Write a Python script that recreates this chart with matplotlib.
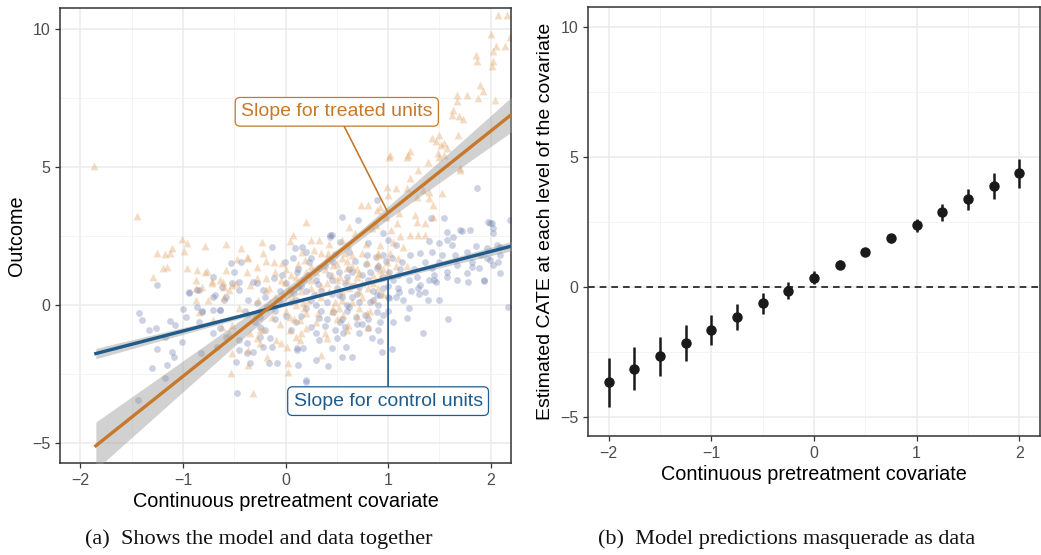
import numpy as np
import matplotlib
matplotlib.use("Agg")
import matplotlib.pyplot as plt

# values
treated = [
    (2.07, 10.5), (2.16, 10.5), (2.0, 9.8), (2.05, 9.4), (2.14, 9.4), (2.02, 9.2), (1.86, 9.06),
    (1.87, 8.84), (2.02, 8.84), (2.01, 8.66), (2.19, 9.7), (1.90, 7.97), (1.93, 7.75), (1.67, 7.6),
    (1.77, 7.6), (1.67, 7.4), (1.88, 7.5), (2.04, 7.43), (1.63, 7.07), (1.62, 6.9), (1.69, 6.85),
    (1.73, 6.74), (1.68, 6.16), (1.50, 6.16), (1.43, 6.05), (1.47, 5.94), (1.52, 5.8), (1.55, 5.87),
    (1.57, 5.7), (1.55, 5.43), (1.21, 5.58), (1.19, 5.43), (1.02, 5.43), (1.49, 5.5), (1.01, 5.36),
    (1.18, 5.36), (1.39, 5.18), (1.50, 5.36), (1.70, 4.89), (1.29, 4.89), (1.21, 4.6), (0.99, 4.28),
    (1.08, 4.24), (1.18, 4.24), (1.34, 4.17), (1.53, 4.06), (1.0, 3.99), (1.28, 3.91), (1.40, 3.88),
    (1.44, 3.62), (0.74, 3.62), (0.80, 3.62), (0.92, 3.55), (0.89, 3.44), (1.11, 3.33), (1.26, 3.26),
    (1.44, 3.19), (0.20, 3.0), (1.09, 2.97), (1.28, 3.0), (1.36, 2.97), (0.62, 2.83), (0.84, 2.79),
    (1.03, 2.72), (1.21, 2.54), (1.29, 2.54), (1.36, 2.54), (0.25, 2.36), (0.33, 2.36), (0.55, 2.36),
    (0.61, 2.17), (0.92, 2.17), (0.16, 1.92), (0.41, 1.88), (0.65, 1.81), (0.90, 1.81), (0.79, 1.56),
    (0.99, 1.56), (0.19, 1.63), (0.46, 1.45), (0.60, 1.34), (0.92, 1.27), (0.72, 1.16), (0.53, 1.01),
    (1.70, 4.96), (1.40, 4.09), (-1.87, 5.04), (-1.45, 3.22),
    (-1.01, 2.39), (-1.11, 2.07), (-0.96, 2.25), (-1.25, 1.88), (-1.18, 1.85), (-1.13, 1.88),
    (-0.99, 1.96), (-0.79, 2.14), (-0.58, 2.21), (-0.43, 2.07), (-0.23, 2.28), (-0.22, 1.88),
    (0.04, 2.32), (0.07, 2.54), (-1.20, 1.34), (-1.29, 1.01), (-0.96, 1.34), (-0.86, 1.27),
    (-0.77, 1.23), (-0.87, 0.91), (-0.72, 0.87), (-0.64, 0.91), (-0.58, 1.27), (-0.47, 1.67),
    (-0.38, 1.74), (-0.28, 1.38), (-0.38, 1.2), (-0.19, 1.59), (-0.11, 1.56), (-0.03, 1.52),
    (-0.28, 0.98), (-0.19, 0.98), (-0.04, 0.91), (-0.87, 0.62), (-0.55, 0.54), (-0.76, 0.18),
    (-0.48, 0.80), (-0.81, 0.65), (-0.35, 0.72), (-0.16, 0.62), (-0.01, 0.83), (0.1, 1.01),
    (-1.16, 1.38), (-0.79, 1.2), (-0.72, 0.8), (-0.61, 0.83), (-0.6, 0.65), (-0.52, 0.72), (-0.37, 1.7),
    (-0.87, 0.18), (-0.84, -0.25), (-0.71, -0.54), (-0.55, -1.01), (-0.52, -1.74), (-0.37, -1.63),
    (-0.37, -2.17), (-0.53, -2.46), (-0.32, -3.19), (-0.18, -1.88), (0.02, -2.1), (0.01, -1.52),
    (-0.09, -1.27), (0.14, -1.27), (-0.25, -0.9), (-0.25, -1.38), (-0.13, -0.43), (0.04, -0.43),
    (0.14, -0.54), (-0.38, -0.29), (-0.27, 0.18), (-0.19, 0.54), (0.07, 0.18), (0.17, 0.07),
    (0.02, -2.43), (-0.52, -0.72), (-0.04, -1.38), (-0.28, -1.2), (-0.22, -0.85), (0.04, -0.9),
    (0.1, -1.16), (-0.35, -1.01), (-0.62, -0.8), (0.61, -0.72), (0.35, -1.81), (0.79, -0.29),
    (0.56, -0.36), (0.2, -0.83), (0.4, -1.2), (0.72, -0.11), (0.46, -0.11),
    (0.3, 1.2), (0.4, 0.8), (0.5, 1.5), (0.6, 0.9), (0.7, 1.3), (0.8, 0.6), (0.9, 1.9), (0.35, 0.3),
    (0.45, -0.2), (0.55, 0.5), (0.65, 0.1), (0.75, 0.8), (0.85, 1.1), (0.95, 0.4), (0.25, 0.6),
    (0.15, 0.9), (0.05, 0.4), (0.2, -0.3), (0.3, -0.6), (0.5, -0.5), (0.7, -0.4), (0.12, 1.5),
    (0.28, 2.0), (0.42, 2.2), (0.58, 1.9), (0.68, 2.6), (0.78, 2.2), (0.88, 2.9), (0.98, 3.2),
    (1.05, 2.3), (1.1, 1.7), (1.15, 2.1), (1.0, 1.2), (0.9, 1.5), (0.6, 1.6), (0.4, 1.7), (0.2, 1.2),
    (0.1, 0.0), (0.0, -0.2), (-0.1, 0.3), (-0.05, -0.7), (0.38, -1.0), (0.22, 0.2),
    (0.05, 1.1), (0.15, 0.5), (0.25, 1.4), (0.35, 0.7), (0.45, 1.1), (0.55, 0.2), (0.65, 1.4),
    (0.75, 0.3), (0.85, 0.8), (0.95, 1.3), (0.3, 0.4), (0.5, 0.9), (0.7, 1.0), (0.9, 0.6),
    (0.18, -0.1), (0.42, 0.5), (0.62, 0.6), (0.82, -0.2), (0.08, -0.5), (0.32, -0.3), (0.52, -0.1),
    (0.72, 0.5), (0.92, 1.0), (1.02, 1.9), (1.12, 2.5), (0.35, 1.9), (0.55, 1.7), (0.75, 1.9),
    (0.25, 0.9), (-0.15, 0.1), (-0.3, -0.4), (-0.45, -0.1), (-0.2, -0.1), (-0.6, 0.3), (-0.1, 1.2),
    (0.0, 1.3), (0.6, -0.9), (0.8, -0.8), (0.15, -1.0), (0.48, 0.1), (0.85, 0.2), (0.38, 1.3),
    (0.68, 0.75), (1.08, 1.4), (1.18, 1.4),
]

control = [
    (1.87, 4.24), (0.55, 3.19), (0.71, 3.08), (1.55, 3.15), (1.42, 3.15), (1.99, 2.97), (2.02, 2.79),
    (1.80, 2.72), (1.57, 2.64), (1.72, 2.68), (1.63, 2.46), (1.50, 2.25), (1.40, 2.32), (1.62, 2.17),
    (1.86, 2.14), (1.96, 2.07), (2.06, 2.17), (2.09, 1.81), (1.96, 1.70), (1.91, 1.81), (1.77, 1.92),
    (1.65, 1.81), (1.53, 1.81), (1.43, 1.92), (1.31, 1.88), (1.21, 1.81), (1.36, 1.56), (1.50, 1.56),
    (1.67, 1.45), (1.82, 1.56), (1.89, 1.34), (2.02, 1.45), (2.09, 1.16), (1.57, 1.2), (1.77, 1.16),
    (1.43, 1.34), (0.43, 2.54), (0.53, 2.28), (0.80, 2.25), (0.95, 2.61), (1.0, 2.36), (1.08, 2.17),
    (0.62, 1.92), (0.79, 1.81), (0.95, 1.81), (1.04, 1.70), (1.14, 1.56), (0.46, 1.56), (0.2, 1.92),
    (0.23, 1.56), (0.33, 1.34), (0.65, 1.2), (0.89, 1.34), (1.01, 1.2), (2.19, 3.08), (2.01, 2.97),
    (0.89, 3.8), (0.43, 2.46), (-0.13, 2.10), (0.09, 2.07), (0.45, 2.54), (1.97, 3.0), (2.02, 2.61),
    (2.09, 2.1), (1.99, 1.63), (1.57, 2.36), (1.7, 2.72),
    (1.47, 0.83), (1.57, 1.01), (1.67, 0.91), (1.78, 0.83), (1.94, 0.87), (2.17, -0.07), (1.29, 0.62),
    (1.36, 0.47), (1.50, 0.18), (1.39, 0.18), (1.31, 0.72), (1.18, -0.47), (1.58, -0.51),
    (1.34, -1.01), (1.04, -1.59), (0.94, -1.70), (0.92, -1.30), (0.84, -1.20), (0.80, -0.83),
    (0.65, -1.88), (0.55, -1.88), (0.59, -1.52), (0.41, -2.21), (0.30, -1.99), (0.45, -1.56),
    (0.33, -1.27), (0.56, -1.01), (0.53, -0.62), (0.69, -0.43), (0.92, -0.62), (0.95, -0.36),
    (0.89, -0.25), (0.77, -0.36), (0.82, 0.11), (1.01, 0.25), (1.08, 0.29), (1.11, 0.47), (0.89, 0.36),
    (0.72, 0.11), (0.62, -0.07), (0.46, -0.25), (0.33, -0.47), (0.20, -2.79), (0.17, -1.56),
    (1.45, 0.9), (1.94, 0.9), (1.82, 1.38), (2.07, 1.56),
    (-0.47, -3.19), (-1.26, -0.83), (-1.18, -1.16), (-1.08, -0.72), (-1.01, -1.34), (-1.11, -1.70),
    (-1.16, -2.17), (-1.30, -2.28), (-1.18, -2.64), (-0.82, -1.74), (-0.71, -1.01), (-0.64, -0.83),
    (-0.67, -1.52), (-0.48, -2.07), (-0.35, -2.10), (-0.38, -1.74), (-0.45, -1.63), (-0.38, -1.38),
    (-0.16, -2.10), (-0.08, -2.10), (-0.25, -0.43), (-0.97, -0.43), (-0.84, -0.62), (0.11, -1.56),
    (-1.25, 0.72), (-1.43, -0.29), (-1.40, -0.54), (-1.33, -0.9), (-1.25, -1.59), (-1.13, -0.58),
    (-1.09, -1.88), (-1.44, -3.44), (-1.0, -0.14), (-0.94, 0.43), (-0.86, 0.54), (-0.81, -0.22),
    (-0.71, -0.18), (-0.69, 0.36), (-0.64, -0.18), (-0.58, 0.29), (-0.52, 0.8), (-0.45, 0.54),
    (-0.53, 1.52), (-0.43, 1.56), (-0.28, 0.8), (-0.58, -1.16), (-0.45, -1.27), (-0.32, -1.70),
    (-0.22, -1.52), (-0.25, -1.16), (-0.25, -0.8), (-0.13, -1.52), (0.12, -2.17), (0.11, -1.63),
    (0.2, -2.72), (-0.94, 0.47), (-0.84, 0.54), (-0.71, 0.29), (-0.5, 1.2), (-0.45, 0.83),
    (-0.32, 0.83), (-0.22, 0.54), (-0.37, 0.18), (-0.28, 0.07), (-0.18, -0.07), (-0.06, 0.18),
    (-0.11, 0.98), (-0.03, 1.09), (-0.01, 1.56), (0.07, 1.70), (0.11, 1.2), (0.12, 0.65), (0.04, 0.54),
    (0.16, 2.1), (-0.6, 0.18), (-0.86, -0.07), (-0.81, -0.25), (-0.64, -0.18), (-0.71, 1.01),
    (-0.62, 0.65),
    (0.1, 0.2), (0.2, 0.5), (0.3, 0.9), (0.4, 0.1), (0.5, 0.6), (0.6, 1.0), (0.7, 0.4), (0.8, 0.9),
    (0.9, 1.4), (1.0, 0.7), (0.15, -0.4), (0.25, -0.8), (0.35, -0.2), (0.45, 0.4), (0.55, -0.5),
    (0.65, 0.3), (0.75, -0.7), (0.85, 0.5), (0.95, 1.0), (1.05, 0.9), (0.05, -0.9), (0.22, 1.1),
    (0.38, 1.4), (0.52, 1.2), (0.68, 1.6), (0.82, 1.2), (0.98, 1.6), (1.1, 1.1), (1.2, 0.9),
    (1.25, 1.3), (-0.1, -0.5), (-0.2, -0.9), (0.0, 0.8), (0.3, 0.0), (0.6, -0.2), (0.9, 0.0),
    (1.15, 0.2), (1.2, -0.1), (0.12, 1.3), (0.48, -0.9), (0.72, -1.0), (1.3, 0.4), (1.4, 0.9),
    (1.45, 1.1), (1.0, -0.2), (-0.05, 0.5), (0.28, 0.35), (0.58, 0.8),
    (0.05, 0.1), (0.15, 0.7), (0.25, 0.2), (0.35, 0.5), (0.45, 0.9), (0.55, 0.3), (0.65, 0.7),
    (0.75, 1.1), (0.85, 0.2), (0.95, 0.6), (0.1, -0.6), (0.2, -0.1), (0.4, -0.5), (0.6, 0.0),
    (0.8, -0.5), (1.0, 0.3), (1.1, 0.6), (0.3, -1.0), (0.5, -1.2), (0.7, -0.7), (0.9, -0.9),
    (-0.1, -0.2), (-0.3, -0.6), (-0.4, -0.2), (-0.2, 0.3), (0.0, -0.4), (0.18, 0.95), (0.42, 1.1),
    (0.62, 1.3), (0.78, 1.5), (1.12, 1.3), (1.22, 0.5), (1.28, 1.0), (0.32, 0.75), (0.52, 0.35),
    (0.72, 0.65), (0.92, 0.35), (0.08, 0.45), (0.58, -0.8), (0.38, -0.75), (1.05, -0.6),
    (-0.15, -1.2), (0.25, 1.7), (0.48, 1.85), (0.88, 1.75),
]

# fitted lines: intercept, slope; band: centre x, half width at centre, growth
treated_fit = [0.38, 2.96]
treated_band = [0.5, 0.15, 0.36]
control_fit = [0.02, 0.96]
control_band = [0.3, 0.05, 0.085]

cate_x = [-2, -1.75, -1.5, -1.25, -1, -0.75, -0.5, -0.25, 0, 0.25, 0.5, 0.75, 1, 1.25, 1.5, 1.75, 2]
cate_est = [-3.65, -3.14, -2.64, -2.15, -1.64, -1.13, -0.62, -0.13, 0.36, 0.87, 1.37, 1.88, 2.38, 2.88, 3.37, 3.88, 4.40]
cate_lo = [-4.59, -3.97, -3.40, -2.82, -2.22, -1.64, -1.05, -0.47, 0.13, 0.69, 1.23, 1.69, 2.12, 2.54, 2.97, 3.38, 3.81]
cate_hi = [-2.72, -2.31, -1.90, -1.47, -1.06, -0.64, -0.23, 0.19, 0.62, 1.05, 1.51, 2.05, 2.63, 3.21, 3.77, 4.37, 4.94]

ORANGE = '#C8782A'
BLUE = '#1F5C8B'

plt.rcParams['font.family'] = ['Liberation Sans', 'DejaVu Sans']


def style_axes(ax):
    ax.set_xlim(-2.2, 2.2)
    ax.set_ylim(-5.72, 10.76)
    ax.set_xticks([-2, -1, 0, 1, 2])
    ax.set_yticks([-5, 0, 5, 10])
    ax.set_xticks([-1.5, -0.5, 0.5, 1.5], minor=True)
    ax.set_yticks([-2.5, 2.5, 7.5], minor=True)
    ax.grid(which='major', color='#EBEBEB', linewidth=1.1)
    ax.grid(which='minor', color='#F2F2F2', linewidth=0.6)
    ax.set_axisbelow(True)
    ax.tick_params(which='major', length=3.5, width=0.9, color='#333333',
                   labelsize=11.5, labelcolor='#4D4D4D')
    ax.tick_params(which='minor', length=0)
    for s in ax.spines.values():
        s.set_color('#333333')
        s.set_linewidth(1.1)


fig = plt.figure(figsize=(10.41, 5.55), dpi=100)
ax1 = fig.add_axes([0.0576, 0.1658, 0.4334, 0.8198])
ax2 = fig.add_axes([0.5648, 0.2144, 0.4342, 0.7726])

# left panel
style_axes(ax1)
tx = np.array([p[0] for p in treated])
ty = np.array([p[1] for p in treated])
cx = np.array([p[0] for p in control])
cy = np.array([p[1] for p in control])
ax1.scatter(cx, cy, s=24, marker='o', color='#6F80B0', alpha=0.35, linewidths=0)
ax1.scatter(tx, ty, s=32, marker='^', color='#E3A566', alpha=0.38, linewidths=0)

xs = np.linspace(-1.85, 2.3, 100)
for fit, band, col in [(control_fit, control_band, BLUE), (treated_fit, treated_band, ORANGE)]:
    yl = fit[0] + fit[1] * xs
    hw = np.sqrt(band[1] ** 2 + (band[2] * (xs - band[0])) ** 2)
    ax1.fill_between(xs, yl - hw, yl + hw, color='#999999', alpha=0.45, linewidth=0, zorder=3)
    ax1.plot(xs, yl, color=col, linewidth=2.4, zorder=4)

box_t = dict(boxstyle='round,pad=0.3,rounding_size=0.25', fc='white', ec=ORANGE, lw=0.9)
box_c = dict(boxstyle='round,pad=0.3,rounding_size=0.25', fc='white', ec=BLUE, lw=0.9)
ax1.annotate('Slope for treated units', xy=(1.0, treated_fit[0] + treated_fit[1] * 1.0),
             xytext=(0.5, 7.0), ha='center', va='center', fontsize=14, color=ORANGE,
             bbox=box_t, arrowprops=dict(arrowstyle='-', color=ORANGE, lw=1.2,
                                         shrinkA=0, shrinkB=0), zorder=6)
ax1.annotate('Slope for control units', xy=(1.0, control_fit[0] + control_fit[1] * 1.0),
             xytext=(1.0, -3.48), ha='center', va='center', fontsize=14, color=BLUE,
             bbox=box_c, arrowprops=dict(arrowstyle='-', color=BLUE, lw=1.2,
                                         shrinkA=0, shrinkB=0), zorder=6)
ax1.set_xlabel('Continuous pretreatment covariate', fontsize=14.3, labelpad=3)
ax1.set_ylabel('Outcome', fontsize=14.3, labelpad=4)

# right panel
style_axes(ax2)
ax2.axhline(0, color='#1a1a1a', linestyle=(0, (4, 3)), linewidth=1.2, zorder=2)
ax2.vlines(cate_x, cate_lo, cate_hi, color='#1a1a1a', linewidth=1.8, zorder=3)
ax2.plot(cate_x, cate_est, 'o', color='#1a1a1a', markersize=6.5, zorder=4)
ax2.set_xlabel('Continuous pretreatment covariate', fontsize=14.3, labelpad=3)
ax2.set_ylabel('Estimated CATE at each level of the covariate', fontsize=14, labelpad=4)

fig.text(0.249, 0.01, '(a)  Shows the model and data together', ha='center', va='bottom',
         fontsize=16, family='Liberation Serif', color='#111111')
fig.text(0.756, 0.01, '(b)  Model predictions masquerade as data', ha='center', va='bottom',
         fontsize=16, family='Liberation Serif', color='#111111')

fig.savefig('out.png', dpi=100)
